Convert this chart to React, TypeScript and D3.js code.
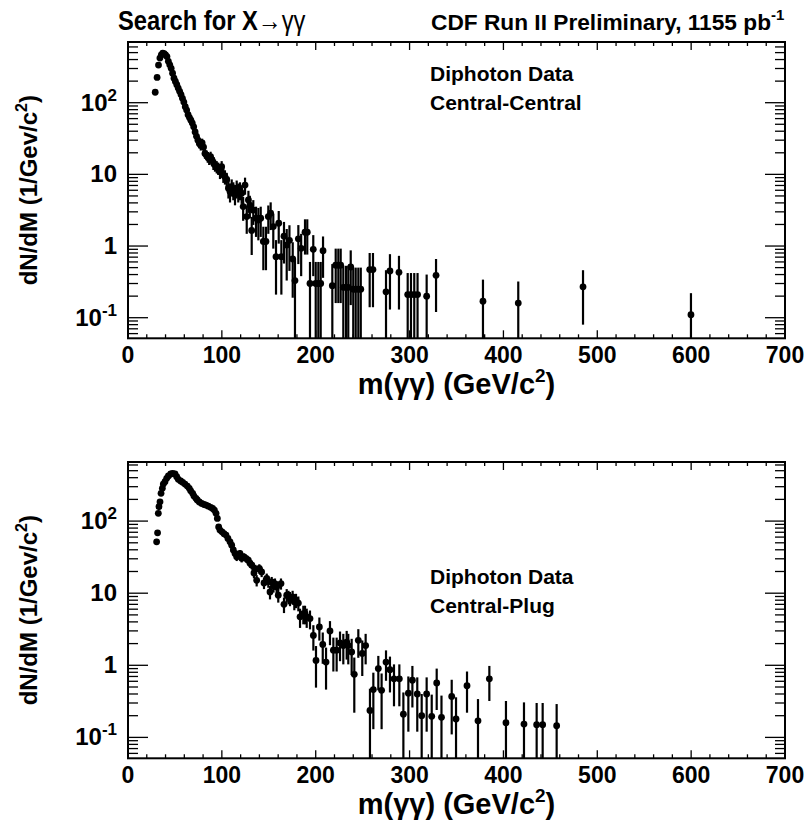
import React from "react";
import * as d3 from "d3";

// ---------- Data: Central-Central (top panel) ----------
const ccMass = [
  29, 31, 32.5, 34, 35.5, 37, 38.5, 40, 41.5, 43, 44.5, 46, 47.5, 49, 50.5, 52, 53.5, 55, 56.5, 58,
  59.5, 61, 62.5, 64, 65.5, 67, 68.5, 70, 71.5, 73, 74.5, 76, 77.5, 79, 80.5, 82, 83.5, 85, 86.5, 88,
  89.5, 91, 92.7, 94.5, 96.2, 98, 99.8, 101.6, 103.3, 105.2, 107, 108.7, 110.5, 112.2, 114, 115.8, 117.5, 119.3, 121.1, 122.7,
  124.7, 126.5, 128.3, 129.8, 131.8, 133.5, 136.4, 138.9, 141.4, 144.2, 147, 149.5, 152, 154.8, 157.7, 160.6, 163.4, 166.2, 169.1, 172,
  175.5, 177.9, 181.5, 184.5, 188.6, 191, 193.9, 197.4, 200, 202.8, 205.3, 207.8, 217.7, 221.3, 224.1, 226.6, 229.4, 232.3, 234.7, 237.3,
  240, 242.6, 245.4, 248, 257.5, 261, 274.9, 279.1, 288.7, 298, 301.5, 305, 308.5, 318.2, 328.2, 378.2, 415.8, 484.8, 599.8,
];
const ccValue = [
  140, 225, 335, 420, 465, 490, 485, 465, 440, 378, 338, 302, 258, 220, 198, 178, 160, 144, 130, 115,
  102, 88, 79, 68, 62, 57, 52, 46, 39, 34, 30, 27, 25.5, 27.5, 24, 19.5, 18.7, 17.5, 16.5, 17.7,
  15.9, 14.5, 13.5, 12.8, 12.2, 10.9, 12.8, 9.8, 9.3, 8.5, 6.4, 5.75, 6.7, 6.05, 5.3, 6.4, 5.75, 6.05, 5.47, 3.55,
  7.1, 2.58, 4.4, 3.73, 1.65, 3.17, 2.44, 2.3, 2.44, 1.16, 1.16, 2.58, 2.87, 1.87, 0.71, 2.08, 0.71, 1.37, 1.03, 1.2,
  0.66, 0.33, 1.26, 0.93, 1.56, 1.56, 0.3, 0.9, 0.3, 0.3, 0.3, 0.86, 0.28, 0.54, 0.54, 0.54, 0.265, 0.265, 0.265, 0.51,
  0.25, 0.25, 0.25, 0.25, 0.47, 0.47, 0.23, 0.45, 0.43, 0.21, 0.21, 0.21, 0.21, 0.2, 0.39, 0.17, 0.16, 0.27, 0.11,
];
const ccError = [
  10, 13, 16, 18, 19, 19, 19, 19, 18, 17, 16, 15, 14, 13, 12, 11, 11, 10, 10, 9,
  8, 8, 7, 7, 6, 6, 6, 5, 5, 5, 4, 4, 4, 4, 4, 3, 3, 3, 3, 3,
  3, 3, 2.6, 2.5, 2.4, 2.3, 2.5, 2.2, 2.1, 2.0, 1.8, 1.7, 1.8, 1.7, 1.6, 1.8, 1.7, 1.7, 1.6, 1.3,
  1.9, 1.1, 1.5, 1.3, 0.9, 1.2, 1.1, 1.1, 1.1, 0.7, 0.7, 1.1, 1.2, 0.95, 0.5, 1.0, 0.5, 0.8, 0.7, 0.75,
  0.47, 0.33, 0.7, 0.55, 0.8, 0.8, 0.3, 0.52, 0.3, 0.3, 0.3, 0.5, 0.28, 0.38, 0.38, 0.38, 0.265, 0.265, 0.265, 0.36,
  0.25, 0.25, 0.25, 0.25, 0.33, 0.33, 0.23, 0.32, 0.3, 0.21, 0.21, 0.21, 0.21, 0.2, 0.27, 0.17, 0.16, 0.19, 0.11,
];

// ---------- Data: Central-Plug (bottom panel) ----------
const cpMass = [
  30.5, 31.5, 32.3, 33, 34.1, 35.2, 36.6, 37.6, 39.4, 41.2, 43, 45.5, 47.6, 50.1, 51.9, 53.6, 56.1, 58.3, 60.7, 63.2,
  65.3, 66.8, 68.9, 70.3, 72.4, 73.8, 76, 78.5, 81, 83.1, 85.6, 88.1, 90.2, 92, 93.8, 95.2, 96.6, 98, 100.2, 102.3,
  104.4, 106.5, 108.7, 110.5, 112.2, 114, 115.8, 117.5, 119.3, 121.1, 123.6, 125.7, 128.2, 130, 132, 134.2, 135.8, 137.1, 139.9, 142.4,
  144.9, 147.8, 149.5, 151.3, 153.1, 155, 156.6, 158.4, 160.1, 163, 166.2, 169.1, 171, 172.6, 175.4, 177.2, 179, 181.5, 183.3, 186.8,
  188.6, 190.4, 193.9, 197.5, 200.3, 203.9, 207.5, 211, 215.2, 218.8, 222.3, 225.9, 229.4, 233, 234.7, 238.3, 241.1, 245.4, 249.6, 253.2,
  257.8, 261.4, 266.7, 270.2, 274.9, 279.1, 283.4, 289.1, 293.4, 298.7, 303, 308.2, 312.9, 318.2, 323.6, 328.9, 334, 344.9, 349.5, 361.2,
  372.9, 385, 402.7, 421.9, 435.4, 441.8, 456.7,
];
const cpValue = [
  51.6, 68.8, 128, 158, 185, 243, 285, 326, 351, 392, 422, 450, 458, 450, 412, 380, 360, 345, 326, 306,
  285, 263, 243, 222, 207, 196, 184, 176, 170, 167, 161, 155, 150, 142, 128, 109, 83, 75, 71, 67,
  64, 57.5, 51.6, 46.4, 39.7, 35.5, 31.9, 33.8, 35.5, 30.5, 31.9, 30.3, 28.7, 26, 24.5, 19.1, 21.5, 15.1, 22, 19.7,
  13.9, 16, 14.5, 10.4, 14.3, 12.5, 13.6, 12.2, 9.4, 13.6, 7.0, 9.4, 8.9, 8.5, 8.9, 7.6, 8.0, 7.3, 4.7, 5.2,
  5.2, 4.7, 4.45, 2.6, 1.17, 3.4, 1.95, 1.11, 3.0, 1.62, 1.62, 2.04, 1.88, 2.1, 1.88, 1.53, 0.75, 2.22, 1.46, 1.88,
  0.237, 0.46, 0.9, 0.45, 1.11, 0.87, 0.65, 0.65, 0.21, 0.41, 0.62, 0.4, 0.2, 0.4, 0.196, 0.57, 0.19, 0.37, 0.18, 0.52,
  0.17, 0.65, 0.16, 0.153, 0.15, 0.15, 0.145,
];
const cpError = [
  5, 6, 8, 9, 10, 11, 12, 13, 13, 14, 15, 15, 15, 15, 14, 14, 13, 13, 13, 12,
  12, 11, 11, 10, 10, 10, 9, 9, 9, 9, 9, 9, 8, 8, 8, 7, 6, 6, 6, 5.5,
  5.5, 5, 5, 4.5, 4, 4, 4, 4, 4, 3.8, 3.8, 3.7, 3.6, 3.4, 3.3, 3, 3.2, 2.7, 3.2, 3,
  2.5, 2.7, 2.6, 2.2, 2.5, 2.3, 2.4, 2.3, 2, 2.4, 1.7, 2, 1.9, 1.9, 1.9, 1.8, 1.8, 1.7, 1.4, 1.5,
  1.5, 1.4, 1.3, 1.0, 0.68, 1.2, 0.9, 0.65, 1.1, 0.8, 0.8, 0.9, 0.85, 0.9, 0.85, 0.8, 0.53, 0.95, 0.75, 0.85,
  0.237, 0.33, 0.45, 0.32, 0.5, 0.45, 0.38, 0.38, 0.21, 0.29, 0.36, 0.28, 0.2, 0.28, 0.196, 0.33, 0.19, 0.26, 0.18, 0.3,
  0.17, 0.33, 0.16, 0.153, 0.15, 0.15, 0.145,
];

// ---------- Axis labels ----------
const xTickValues = [0, 100, 200, 300, 400, 500, 600, 700];
const yTickValues = [0.1, 1, 10, 100];
const yTickBase = ["10", "1", "10", "10"];
const yTickExp = ["-1", "", "", "2"];

const FONT = "'Liberation Sans', Arial, Helvetica, sans-serif";

type PanelProps = {
  top: number;
  masses: number[];
  values: number[];
  errors: number[];
  yMin: number;
  yMax: number;
  legend1: string;
  legend2: string;
  legendY: number;
};

function Panel({ top, masses, values, errors, yMin, yMax, legend1, legend2, legendY }: PanelProps) {
  const left = 128;
  const right = 785;
  const bottom = top + 296.3;
  const x = d3.scaleLinear().domain([0, 700]).range([left, right]);
  const y = d3.scaleLog().domain([yMin, yMax]).range([bottom, top]);
  const yc = (v: number) => y(Math.min(Math.max(v, yMin), yMax));

  const minorX = d3.range(0, 701, 20).filter((v) => v % 100 !== 0);
  const minorY: number[] = [];
  for (let e = -2; e <= 2; e++) {
    for (let k = 2; k <= 9; k++) {
      const v = k * Math.pow(10, e);
      if (v > yMin && v < yMax) minorY.push(v);
    }
  }
  const majX = 8, minX = 4, majY = 20, minY = 10;
  const tickStroke = 1.3;

  return (
    <g>
      {/* data */}
      <g>
        {masses.map((m, i) => {
          const v = values[i];
          const e = errors[i];
          return (
            <g key={i}>
              <line
                x1={x(m)}
                x2={x(m)}
                y1={yc(v - e)}
                y2={yc(v + e)}
                stroke="#000"
                strokeWidth={2.2}
              />
              <circle cx={x(m)} cy={y(v)} r={3.4} fill="#000" />
            </g>
          );
        })}
      </g>
      {/* x ticks bottom & top */}
      {xTickValues.map((t) => (
        <g key={"xm" + t}>
          <line x1={x(t)} x2={x(t)} y1={bottom} y2={bottom - majX} stroke="#000" strokeWidth={tickStroke} />
          <line x1={x(t)} x2={x(t)} y1={top} y2={top + majX} stroke="#000" strokeWidth={tickStroke} />
        </g>
      ))}
      {minorX.map((t) => (
        <g key={"xn" + t}>
          <line x1={x(t)} x2={x(t)} y1={bottom} y2={bottom - minX} stroke="#000" strokeWidth={tickStroke} />
          <line x1={x(t)} x2={x(t)} y1={top} y2={top + minX} stroke="#000" strokeWidth={tickStroke} />
        </g>
      ))}
      {/* y ticks left & right */}
      {yTickValues.map((t) => (
        <g key={"ym" + t}>
          <line x1={left} x2={left + majY} y1={y(t)} y2={y(t)} stroke="#000" strokeWidth={tickStroke} />
          <line x1={right} x2={right - majY} y1={y(t)} y2={y(t)} stroke="#000" strokeWidth={tickStroke} />
        </g>
      ))}
      {minorY.map((t) => (
        <g key={"yn" + t}>
          <line x1={left} x2={left + minY} y1={y(t)} y2={y(t)} stroke="#000" strokeWidth={tickStroke} />
          <line x1={right} x2={right - minY} y1={y(t)} y2={y(t)} stroke="#000" strokeWidth={tickStroke} />
        </g>
      ))}
      {/* frame */}
      <rect x={left} y={top} width={right - left} height={bottom - top} fill="none" stroke="#000" strokeWidth={2} />
      {/* x tick labels */}
      {xTickValues.map((t) => (
        <text
          key={"xl" + t}
          x={x(t)}
          y={bottom + 25}
          textAnchor="middle"
          fontFamily={FONT}
          fontWeight="bold"
          fontSize={23}
        >
          {t}
        </text>
      ))}
      {/* y tick labels */}
      {yTickValues.map((t, i) => (
        <text
          key={"yl" + t}
          x={117}
          y={y(t) + 8}
          textAnchor="end"
          fontFamily={FONT}
          fontWeight="bold"
          fontSize={24}
        >
          {yTickBase[i]}
          {yTickExp[i] ? (
            <tspan dy={-10} fontSize={17}>
              {yTickExp[i]}
            </tspan>
          ) : null}
        </text>
      ))}
      {/* x title */}
      <text x={(left + right) / 2} y={bottom + 56} textAnchor="middle" fontFamily={FONT} fontWeight="bold" fontSize={29}>
        m(γγ) (GeV/c
        <tspan dy={-12} fontSize={19}>2</tspan>
        <tspan dy={12}>)</tspan>
      </text>
      {/* y title */}
      <text
        transform={`translate(37, ${(top + bottom) / 2}) rotate(-90)`}
        textAnchor="middle"
        fontFamily={FONT}
        fontWeight="bold"
        fontSize={24}
      >
        dN/dM (1/Gev/c
        <tspan dy={-10} fontSize={16}>2</tspan>
        <tspan dy={10}>)</tspan>
      </text>
      {/* legend */}
      <text x={430} y={legendY} fontFamily={FONT} fontWeight="bold" fontSize={21}>
        {legend1}
      </text>
      <text x={430} y={legendY + 29} fontFamily={FONT} fontWeight="bold" fontSize={21}>
        {legend2}
      </text>
    </g>
  );
}

export default function App() {
  return (
    <svg
      width={810}
      height={829}
      viewBox="0 0 810 829"
      style={{ position: "absolute", left: 0, top: 0, background: "#fff" }}
    >
      <rect x={0} y={0} width={810} height={829} fill="#fff" />
      <g transform="translate(118, 30) scale(0.88, 1)">
        <text x={0} y={0} fontFamily={FONT} fontWeight="bold" fontSize={27}>
          Search for X
          <tspan fontWeight="normal">→γγ</tspan>
        </text>
      </g>
      <text x={431} y={30} fontFamily={FONT} fontWeight="bold" fontSize={22.7}>
        CDF Run II Preliminary, 1155 pb
        <tspan dy={-10} fontSize={15}>-1</tspan>
      </text>
      <Panel
        top={42}
        masses={ccMass}
        values={ccValue}
        errors={ccError}
        yMin={0.0516}
        yMax={703}
        legend1="Diphoton Data"
        legend2="Central-Central"
        legendY={81}
      />
      <Panel
        top={462}
        masses={cpMass}
        values={cpValue}
        errors={cpError}
        yMin={0.0513}
        yMax={660}
        legend1="Diphoton Data"
        legend2="Central-Plug"
        legendY={584}
      />
    </svg>
  );
}
